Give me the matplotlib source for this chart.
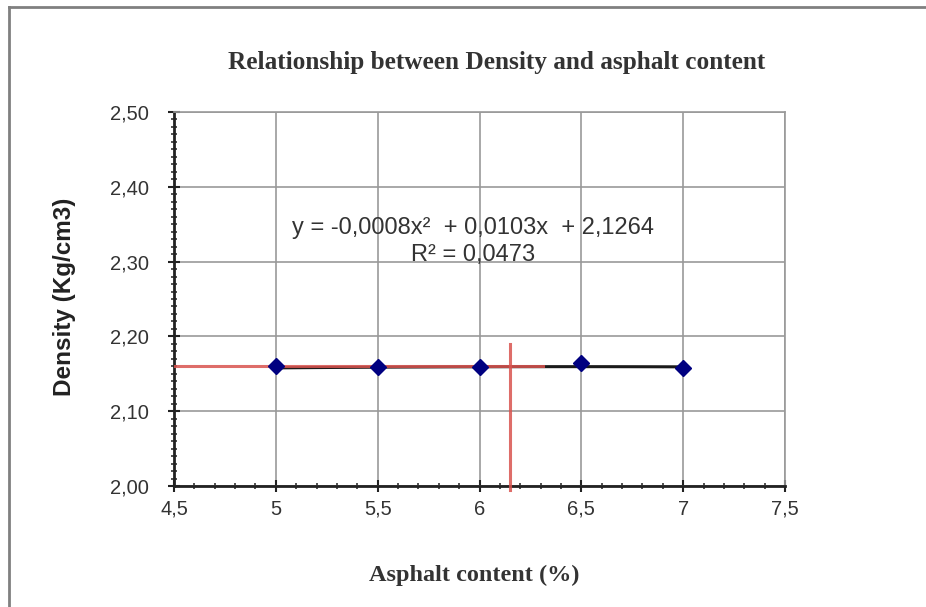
import numpy as np
import matplotlib
matplotlib.use('Agg')
import matplotlib.pyplot as plt
from matplotlib.lines import Line2D
from matplotlib.ticker import MultipleLocator

# data
asphalt = [5.0, 5.5, 6.0, 6.5, 7.0]
density = [2.160, 2.159, 2.159, 2.164, 2.158]
coef = [-0.0008, 0.0103, 2.1264]  # trendline y = a x^2 + b x + c
r2 = 0.0473

# optimum asphalt content read-off (red guide lines)
opt_x = 6.15
opt_y = 2.160
guide_top = 2.19

x_ticks = [4.5, 5.0, 5.5, 6.0, 6.5, 7.0, 7.5]
x_labels = ['4,5', '5', '5,5', '6', '6,5', '7', '7,5']
y_ticks = [2.00, 2.10, 2.20, 2.30, 2.40, 2.50]
y_labels = ['2,00', '2,10', '2,20', '2,30', '2,40', '2,50']

fig = plt.figure(figsize=(9.26, 6.07), dpi=100)
ax = fig.add_axes([174/926, 1-486/607, (785-174)/926, (486-112)/607])

# outer frame (only left and top visible)
fig.add_artist(Line2D([9/926, 9/926], [0, 1-7/607], color='#808080', lw=2, transform=fig.transFigure))
fig.add_artist(Line2D([9/926, 1], [1-7/607, 1-7/607], color='#808080', lw=2, transform=fig.transFigure))

xs = np.linspace(asphalt[0], asphalt[-1], 100)
ax.plot(xs, np.polyval(coef, xs), color='#1a1a1a', lw=2.2, zorder=3)

ax.plot([x_ticks[0], 6.31], [opt_y, opt_y], color='#d9534f', lw=2.2, alpha=0.85, zorder=4)
ax.plot([opt_x, opt_x], [1.995, guide_top], color='#d9534f', lw=2.2, alpha=0.85, zorder=4, clip_on=False)

ax.plot(asphalt, density, linestyle='none', marker='D', color='#000080', markersize=8.5, zorder=5)

ax.set_xlim(4.5, 7.5)
ax.set_ylim(2.0, 2.5)
ax.set_xticks(x_ticks)
ax.set_xticklabels(x_labels)
ax.set_yticks(y_ticks)
ax.set_yticklabels(y_labels)
ax.xaxis.set_minor_locator(MultipleLocator(0.1))
ax.yaxis.set_minor_locator(MultipleLocator(0.01))
ax.tick_params(which='major', direction='inout', length=8, width=1.5, color='#222222',
               labelsize=14.5, labelcolor='#333333', top=False, right=False)
ax.tick_params(which='minor', direction='inout', length=5, width=1.1, color='#222222')
ax.tick_params(axis='x', pad=6)
ax.tick_params(axis='y', pad=14)
for lab in ax.get_xticklabels() + ax.get_yticklabels():
    lab.set_family('Liberation Sans')

ax.grid(True, which='major', color='#999999', lw=1.2)
for s in ['top', 'right']:
    ax.spines[s].set_color('#999999')
    ax.spines[s].set_linewidth(1.2)
for s in ['left', 'bottom']:
    ax.spines[s].set_color('#222222')
    ax.spines[s].set_linewidth(2)

ax.text(473/926, 1-228/607, 'y = -0,0008x\u00b2  + 0,0103x  + 2,1264', transform=fig.transFigure,
        ha='center', va='center', fontsize=17, family='Liberation Sans', color='#333333')
ax.text(473/926, 1-255/607, 'R\u00b2 = 0,0473', transform=fig.transFigure,
        ha='center', va='center', fontsize=17, family='Liberation Sans', color='#333333')

fig.text(497/926, 1-62/607, 'Relationship between Density and asphalt content', ha='center', va='center',
         fontsize=18.2, fontweight='bold', family='Liberation Serif', color='#333333')
fig.text(474/926, 1-575/607, 'Asphalt content (%)', ha='center', va='center',
         fontsize=17.5, fontweight='bold', family='Liberation Serif', color='#333333')
fig.text(65/926, 1-297/607, 'Density (Kg/cm3)', ha='center', va='center', rotation=90,
         fontsize=17.5, fontweight='bold', family='Liberation Sans', color='#222222')

fig.savefig('out.png', dpi=100)
